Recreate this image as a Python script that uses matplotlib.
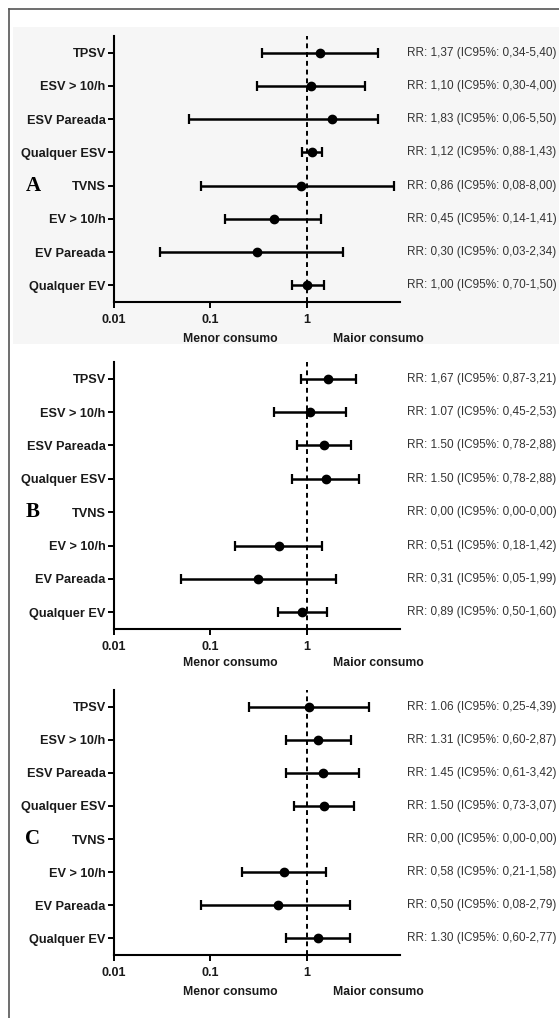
import matplotlib
matplotlib.use('Agg')
import matplotlib.pyplot as plt
import numpy as np
from matplotlib.lines import Line2D
from matplotlib.patches import Rectangle

### Data ###
categories = ['TPSV', 'ESV > 10/h', 'ESV Pareada', 'Qualquer ESV',
              'TVNS', 'EV > 10/h', 'EV Pareada', 'Qualquer EV']

rr_a = [1.37, 1.10, 1.83, 1.12, 0.86, 0.45, 0.30, 1.00]
lo_a = [0.34, 0.30, 0.06, 0.88, 0.08, 0.14, 0.03, 0.70]
hi_a = [5.40, 4.00, 5.50, 1.43, 8.00, 1.41, 2.34, 1.50]
txt_a = ['RR: 1,37 (IC95%: 0,34-5,40)', 'RR: 1,10 (IC95%: 0,30-4,00)',
         'RR: 1,83 (IC95%: 0,06-5,50)', 'RR: 1,12 (IC95%: 0,88-1,43)',
         'RR: 0,86 (IC95%: 0,08-8,00)', 'RR: 0,45 (IC95%: 0,14-1,41)',
         'RR: 0,30 (IC95%: 0,03-2,34)', 'RR: 1,00 (IC95%: 0,70-1,50)']

rr_b = [1.67, 1.07, 1.50, 1.57, np.nan, 0.51, 0.31, 0.89]
lo_b = [0.87, 0.45, 0.78, 0.70, np.nan, 0.18, 0.05, 0.50]
hi_b = [3.21, 2.53, 2.88, 3.45, np.nan, 1.42, 1.99, 1.60]
txt_b = ['RR: 1,67 (IC95%: 0,87-3,21)', 'RR: 1.07 (IC95%: 0,45-2,53)',
         'RR: 1.50 (IC95%: 0,78-2,88)', 'RR: 1.50 (IC95%: 0,78-2,88)',
         'RR: 0,00 (IC95%: 0,00-0,00)', 'RR: 0,51 (IC95%: 0,18-1,42)',
         'RR: 0,31 (IC95%: 0,05-1,99)', 'RR: 0,89 (IC95%: 0,50-1,60)']

rr_c = [1.06, 1.31, 1.45, 1.50, np.nan, 0.58, 0.50, 1.30]
lo_c = [0.25, 0.60, 0.61, 0.73, np.nan, 0.21, 0.08, 0.60]
hi_c = [4.39, 2.87, 3.42, 3.07, np.nan, 1.58, 2.79, 2.77]
txt_c = ['RR: 1.06 (IC95%: 0,25-4,39)', 'RR: 1.31 (IC95%: 0,60-2,87)',
         'RR: 1.45 (IC95%: 0,61-3,42)', 'RR: 1.50 (IC95%: 0,73-3,07)',
         'RR: 0,00 (IC95%: 0,00-0,00)', 'RR: 0,58 (IC95%: 0,21-1,58)',
         'RR: 0,50 (IC95%: 0,08-2,79)', 'RR: 1.30 (IC95%: 0,60-2,77)']

xticks = [0.01, 0.1, 1]
xticklabels = ['0.01', '0.1', '1']

plt.rcParams['font.family'] = ['Liberation Sans', 'DejaVu Sans']

W, H = 559, 1018
fig = plt.figure(figsize=(W / 100, H / 100), dpi=100)

def px_axes(left, top, right, bottom):
    return fig.add_axes([left / W, 1 - bottom / H, (right - left) / W, (bottom - top) / H])

### Frame lines and grey background of panel A ###
fig.add_artist(Line2D([9 / W, 1], [1 - 9 / H, 1 - 9 / H], color='#555555', lw=1.2))
fig.add_artist(Line2D([9 / W, 9 / W], [1 - 9 / H, 0], color='#555555', lw=1.2))
fig.add_artist(Rectangle((13 / W, 1 - 344 / H), 1 - 13 / W, (344 - 27) / H,
                         facecolor='#f6f6f6', edgecolor='none', zorder=0))

panels = [
    ('A', rr_a, lo_a, hi_a, txt_a, 36, 302, 339),
    ('B', rr_b, lo_b, hi_b, txt_b, 362, 629, 663),
    ('C', rr_c, lo_c, hi_c, txt_c, 690, 955, 992),
]

y = np.arange(len(categories))
for letter, rr, lo, hi, txt, top, bottom, lab_y in panels:
    ax = px_axes(114, top, 400, bottom)
    ax.patch.set_visible(False)
    rr = np.array(rr); lo = np.array(lo); hi = np.array(hi)
    ax.errorbar(rr, y, xerr=[rr - lo, hi - rr], fmt='o', color='black',
                ms=6, elinewidth=1.8, capsize=3.5, capthick=1.6)
    ax.axvline(1, color='black', lw=1.4, ls=(0, (2.5, 2)), zorder=0)
    ax.set_xscale('log')
    ax.set_xlim(0.01, 9.2)
    ax.set_ylim(7.5, -0.5)
    ax.set_yticks(y)
    ax.set_yticklabels(categories, fontsize=9.2, fontweight='bold', color='#1a1a1a')
    ax.set_xticks(xticks)
    ax.set_xticklabels(xticklabels, fontsize=9, fontweight='bold', color='#1a1a1a')
    ax.xaxis.set_minor_locator(matplotlib.ticker.NullLocator())
    ax.tick_params(axis='both', length=4, width=1.4, pad=2)
    ax.tick_params(axis='x', pad=5)
    for s in ['top', 'right']:
        ax.spines[s].set_visible(False)
    for s in ['left', 'bottom']:
        ax.spines[s].set_linewidth(1.5)
    for i, t in enumerate(txt):
        ax.annotate(t, xy=(1, i), xycoords=('axes fraction', 'data'),
                    xytext=(7, 0), textcoords='offset pixels',
                    va='center', ha='left', fontsize=8.5, color='#333333')
    fig.text(33 / W, 1 - (top + (bottom - top) * 4.5 / 8) / H, letter,
             family='Liberation Serif', fontweight='bold', fontsize=15,
             ha='center', va='center')
    fig.text(230 / W, 1 - lab_y / H, 'Menor consumo', fontsize=8.8,
             fontweight='bold', ha='center', va='center', color='#1a1a1a')
    fig.text(378 / W, 1 - lab_y / H, 'Maior consumo', fontsize=8.8,
             fontweight='bold', ha='center', va='center', color='#1a1a1a')

plt.savefig('out.png', dpi=100)
